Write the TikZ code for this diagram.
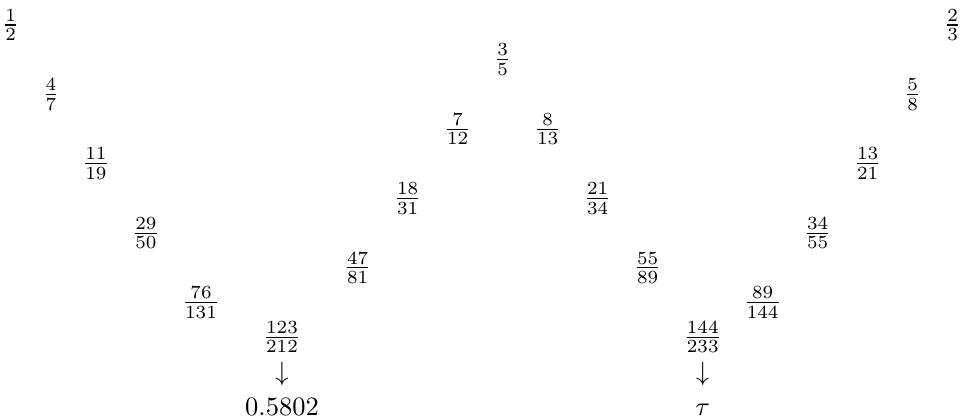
\documentclass[tikz,border=0pt]{standalone}
\usepackage{amsmath}
\usetikzlibrary{positioning}

\begin{document}
\begin{tikzpicture}[node distance=0pt, every node/.style={inner sep=1pt},
    limit/.style={text height=6.5pt, text depth=0.5pt}]
    \useasboundingbox (0,0) rectangle (12.785,-5.531);

    % outer branches
    \node (n12) at (0.142,-0.332) {$\frac{1}{2}$};
    \node (n47) at (0.676,-1.252) {$\frac{4}{7}$};
    \node (n1119) at (1.273,-2.172) {$\frac{11}{19}$};
    \node (n2950) at (1.936,-3.092) {$\frac{29}{50}$};
    \node (n76131) at (2.666,-4.012) {$\frac{76}{131}$};

    \node (n23) at (12.635,-0.332) {$\frac{2}{3}$};
    \node (n58) at (12.105,-1.252) {$\frac{5}{8}$};
    \node (n1321) at (11.508,-2.172) {$\frac{13}{21}$};
    \node (n3455) at (10.845,-3.092) {$\frac{34}{55}$};
    \node (n89144) at (10.115,-4.012) {$\frac{89}{144}$};

    % inner branches
    \node (n35) at (6.667,-0.792) {$\frac{3}{5}$};
    \node (n712) at (6.070,-1.712) {$\frac{7}{12}$};
    \node (n1831) at (5.407,-2.632) {$\frac{18}{31}$};
    \node (n4781) at (4.744,-3.552) {$\frac{47}{81}$};
    \node (n813) at (7.264,-1.712) {$\frac{8}{13}$};
    \node (n2134) at (7.927,-2.632) {$\frac{21}{34}$};
    \node (n5589) at (8.590,-3.552) {$\frac{55}{89}$};

    % limits
    \node (n123212) at (3.740,-4.472) {$\frac{123}{212}$};
    \node [below=1pt of n123212] (arrl) {$\downarrow$};
    \node [limit, below=2.5pt of arrl] (liml) {$0.5802$};

    \node (n144233) at (9.320,-4.472) {$\frac{144}{233}$};
    \node [below=1pt of n144233] (arrr) {$\downarrow$};
    \node [limit, below=2.5pt of arrr] (limr) {$\tau$};
\end{tikzpicture}
\end{document}
